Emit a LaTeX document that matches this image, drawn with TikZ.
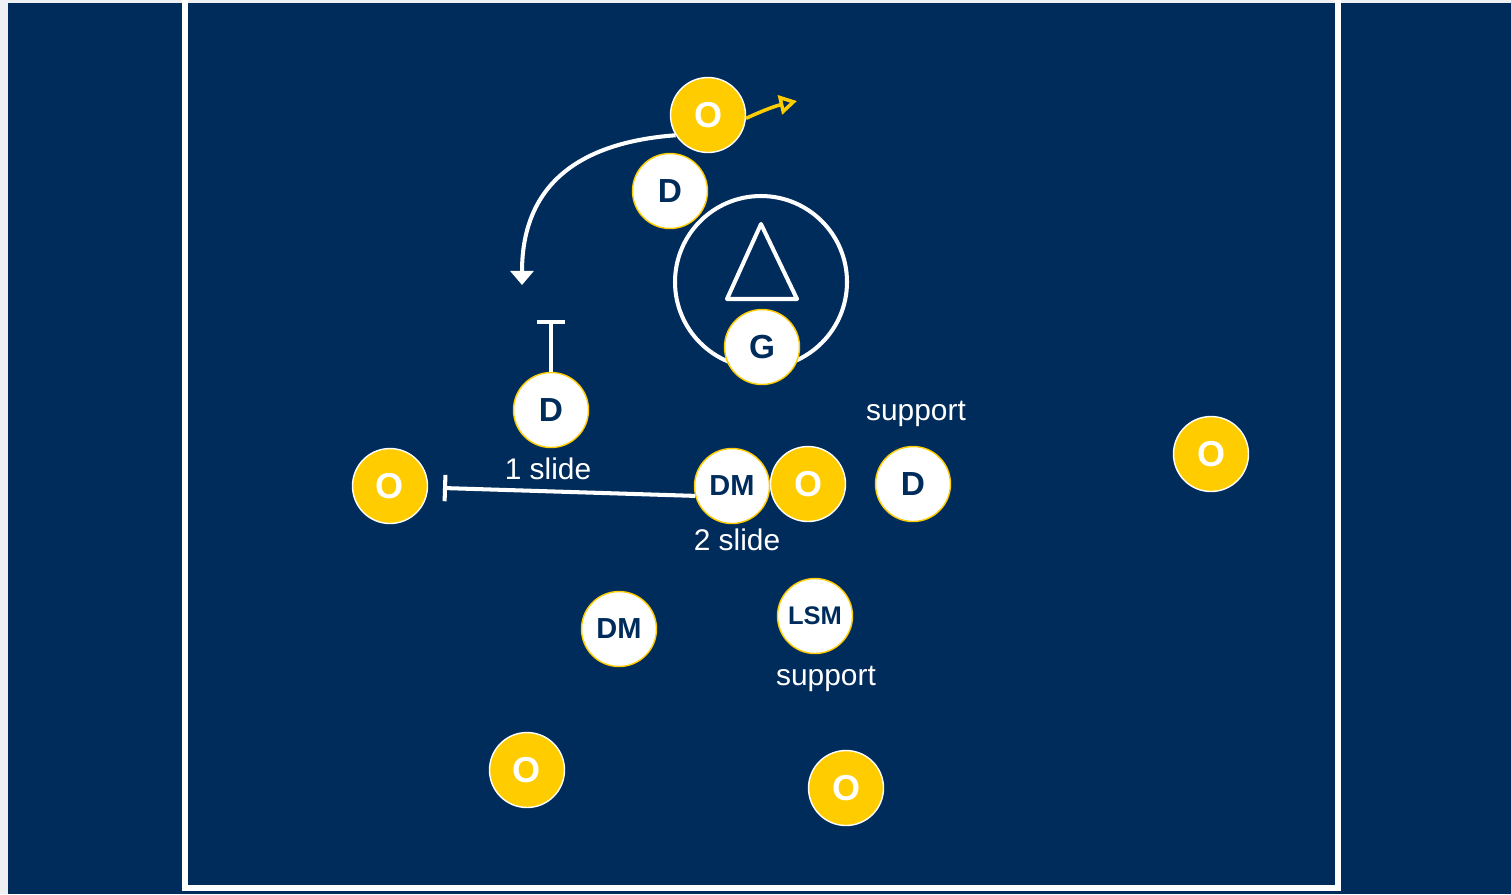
\documentclass[tikz,border=0pt]{standalone}
\usepackage{fontspec}
\setmainfont{Liberation Sans}
\usetikzlibrary{arrows.meta}
\definecolor{navy}{RGB}{0,44,92}
\definecolor{gold}{RGB}{255,204,0}
\definecolor{margin}{RGB}{238,240,244}

\begin{document}
\begin{tikzpicture}[x=0.02cm, y=-0.02cm, >=Stealth,
    pl/.style={circle, minimum size=1.5cm, inner sep=0pt, line width=0.8pt,
      font=\fontsize{19}{22}\selectfont\bfseries},
    def/.style={pl, fill=white, draw=gold, text=navy},
    off/.style={pl, fill=gold, draw=white, text=white, font=\fontsize{20.5}{24}\selectfont\bfseries},
    lbl/.style={text=white, font=\fontsize{17}{20}\selectfont},
    ln/.style={white, line width=2.3pt}]
  \useasboundingbox (0,0) rectangle (1511,894);
  % field
  \fill[margin] (0,0) rectangle (1511,894);
  \fill[navy] (8,3) rectangle (1511,894);
  \draw[white, line width=3.4pt] (185,0) -- (185,888) -- (1338,888) -- (1338,0);
  % crease and goal
  \draw[ln] (761,282) circle[radius=86];
  \draw[ln, line join=round] (761,224) -- (797,299) -- (727,299) -- cycle;
  % players
  \node[off] (O1) at (708,115) {O};
  \node[def] (D1) at (670,191) {D};
  \node[def] (G) at (762,347) {G};
  \node[def] (D2) at (551,410) {D};
  \node[off] (O2) at (390,486) {O};
  \node[off] (O3) at (808,484) {O};
  \node[def, font=\fontsize{16.5}{20}\selectfont\bfseries] (DM1) at (732,486) {DM};
  \node[def] (D3) at (913,484) {D};
  \node[off] (O4) at (1211,454) {O};
  \node[def, font=\fontsize{16.5}{20}\selectfont\bfseries] (DM2) at (619,629) {DM};
  \node[def, font=\fontsize{14.5}{18}\selectfont\bfseries] (LSM) at (815,616) {LSM};
  \node[off] (O5) at (527,770) {O};
  \node[off] (O6) at (846,788) {O};
  % labels
  \node[lbl] (sup1) at (916,414) {support};
  \node[lbl] (sl1) at (548,469) {1 slide};
  \node[lbl] (sl2) at (737,540) {2 slide};
  \node[lbl] (sup2) at (826,679) {support};
  % moves
  \coordinate (cut) at (522,285);
  \coordinate (stop1) at (551,320);
  \coordinate (stop2) at (443,488);
  \coordinate (go) at (797,101);
  \draw[ln, -{Triangle[width=13pt,length=8pt]}] (O1.212) .. controls (585,142) and (522,180) .. (cut);
  \draw[ln, -{Bar[width=16pt]}] (D2) -- (stop1);
  \draw[ln, -{Bar[width=15pt]}] (DM1.195) -- (stop2);
  \draw[gold, line width=2pt, -{Triangle[open, width=11pt, length=10pt]}] (O1.-5) to[bend left=6] (go);
\end{tikzpicture}
\end{document}
